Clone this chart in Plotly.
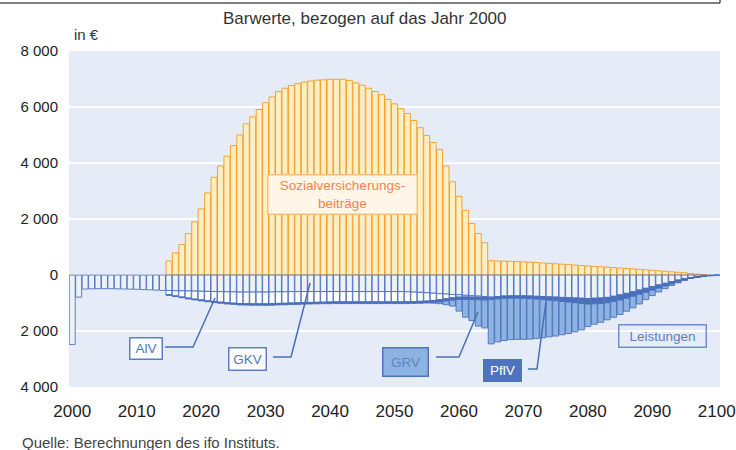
import plotly.graph_objects as go

years = list(range(2000, 2101))

beitraege = ([0] * 15 +
    [500, 790, 1090, 1480, 1900, 2360, 2930, 3490, 3890, 4240,
     4620, 5000, 5400, 5650, 5910, 6150, 6360, 6550, 6670, 6770,
     6830, 6890, 6930, 6960, 6970, 6990, 6990, 6990, 6950, 6860,
     6780, 6670, 6550, 6440, 6270, 6110, 5940, 5770, 5520, 5260,
     4980, 4730, 4480, 3890, 3330, 2810, 2310, 1840, 1480, 1150,
     510, 500, 495, 490, 480, 470, 460, 445, 430, 415,
     400, 385, 370, 355, 340, 325, 310, 295, 280, 265,
     250, 235, 218, 200, 185, 168, 150, 133, 115, 97,
     80, 55, 30, 12, 0, 0])

gkv = ([2480, 790,
        500, 495, 490, 490, 490, 495, 500, 505, 510, 520, 530, 540, 550,
        555, 560, 565, 570, 575, 580, 585, 590, 595, 600, 605,
        610, 610, 610, 610, 610,
        605, 600, 600, 595, 595,
        590, 590, 590, 590, 590] + [590] * 10 +
       [595, 600, 610, 620, 635,
        650, 665, 680, 695, 710, 725, 740, 755, 770,
        790, 770, 750, 745, 745, 745, 750, 760, 770, 780, 790, 800, 810, 820, 830,
        840, 830, 820, 800, 760, 710, 655, 595, 535, 475, 415, 355, 298, 238, 180,
        130, 92, 60, 35, 15, 4])

alv = ([0] * 15 +
       [150, 185, 220, 255, 285, 310, 335, 355, 375, 390, 400,
        410, 415, 420, 420, 420,
        420, 415, 410, 405, 400,
        395, 390, 385, 380, 375] + [370] * 10 +
       [365, 355, 340, 320, 295,
        260, 220, 170, 120, 80, 60, 50, 40, 30] + [0] * 36)

pflv = ([0] * 15 +
        [20, 25, 25, 30, 30, 35, 35, 40, 40, 45, 45,
         50, 50, 50, 50, 55,
         55, 55, 55, 55, 55,
         55, 55, 55, 55, 60] + [60] * 10 +
        [60, 65, 65, 70, 70,
         75, 80, 80, 85, 85, 90, 90, 90, 90,
         90, 85, 85, 85, 85, 90, 95, 100, 110, 120, 130, 145, 160, 175, 190,
         200, 200, 200, 195, 190, 185, 175, 165, 155, 145, 130, 115, 100, 85, 70,
         50, 30, 18, 12, 8, 1])

grv = ([0] * 56 +
       [20, 60, 130, 210, 415, 630, 745, 940, 1000,
        1580, 1535, 1505, 1480, 1470, 1465, 1445, 1410, 1365, 1310, 1260, 1190, 1120, 1035, 940,
        800, 730, 670, 605, 560, 515, 465, 415, 345, 260, 190, 135, 87, 52, 30,
        10, 3, 2, 3, 2, 0])

y_tickvals = [-4000, -2000, 0, 2000, 4000, 6000, 8000]
y_ticktext = ["4 000", "2 000", "0", "2 000", "4 000", "6 000", "8 000"]
x_tickvals = list(range(2000, 2101, 10))

FONT = "Liberation Sans, Arial, sans-serif"
BLUE_LINE = "rgba(70,108,186,0.85)"


def neg(vals):
    # benefits are drawn below zero; empty years are left out of the stack
    return [-v if v > 0 else None for v in vals]


fig = go.Figure()
fig.add_trace(go.Bar(x=years, y=[v if v > 0 else None for v in beitraege],
                     name="Sozialversicherungsbeiträge",
                     marker=dict(color="#fdefc3", line=dict(color="#f5a132", width=1))))
fig.add_trace(go.Bar(x=years, y=neg(gkv), name="GKV",
                     marker=dict(color="#edf1fa", line=dict(color=BLUE_LINE, width=1))))
fig.add_trace(go.Bar(x=years, y=neg(alv), name="AlV",
                     marker=dict(color="#ffffff", line=dict(color=BLUE_LINE, width=1))))
fig.add_trace(go.Bar(x=years, y=neg(pflv), name="PflV",
                     marker=dict(color="#4a70bc", line=dict(color=BLUE_LINE, width=1))))
fig.add_trace(go.Bar(x=years, y=neg(grv), name="GRV",
                     marker=dict(color="#8db3e2", line=dict(color=BLUE_LINE, width=1))))

fig.update_layout(
    width=736, height=450,
    margin=dict(l=69, r=16, t=51, b=63),
    paper_bgcolor="white", plot_bgcolor="#e6ecf7",
    barmode="relative", bargap=0.08,
    showlegend=False,
    font=dict(family=FONT, color="#333333"),
    xaxis=dict(range=[1999.5, 2100.5], tickvals=x_tickvals, showgrid=False,
               zeroline=False, ticks="", ticklabelstandoff=12, ticklabeloverflow="allow",
               automargin=False, tickfont=dict(size=17, color="#222222")),
    yaxis=dict(range=[-4000, 8000], tickvals=y_tickvals, ticktext=y_ticktext,
               showgrid=True, gridcolor="white", gridwidth=2, zeroline=False,
               ticks="", ticklabelstandoff=10, automargin=False,
               tickfont=dict(size=15, color="#222222")),
)

# titles / text
fig.add_annotation(text="Barwerte, bezogen auf das Jahr 2000", xref="paper", yref="paper",
                   x=0.4547, y=1.098, showarrow=False, xanchor="center", yanchor="middle",
                   font=dict(size=17, color="#333333"))
fig.add_annotation(text="in €", xref="paper", yref="paper", x=0.004, y=1.048,
                   showarrow=False, xanchor="left", yanchor="middle",
                   font=dict(size=15, color="#333333"))
fig.add_annotation(text="Quelle: Berechnungen des ifo Instituts.", xref="paper", yref="paper",
                   x=-0.075, y=-0.164, showarrow=False, xanchor="left", yanchor="middle",
                   font=dict(size=15, color="#444444"))


def box(text, x, y, w, h, fc, bg, bc, bw=1.5, size=13.5):
    fig.add_annotation(text=text, x=x, y=y, xref="x", yref="y", showarrow=False,
                       width=w, height=h, align="center", valign="middle",
                       bgcolor=bg, bordercolor=bc, borderwidth=bw, borderpad=1,
                       font=dict(size=size, color=fc, family=FONT))


box("Sozialversicherungs-<br>beiträge", 2042.0, 2893, 146, 36, "#f0854f", "#fff6e8", "#f8c07a")
box("AlV", 2011.45, -2625, 29, 18, "#4f74be", "#ffffff", "#5a7fc4")
box("GKV", 2027.2, -3000, 34, 19, "#4f74be", "#ffffff", "#5a7fc4")
box("GRV", 2051.7, -3107, 42, 25, "#5f82c2", "#8db3e2", "#4f74be")
box("PflV", 2066.75, -3410, 34, 18, "#ffffff", "#4f74be", "#4f74be")
box("Leistungen", 2091.6, -2190, 84, 19, "#5a7fc0", "rgba(0,0,0,0)", "#6f8fcc")

# leader lines
leaders = [
    [(2014.4, -2571), (2018.74, -2571), (2022.15, -821)],
    [(2031.15, -2929), (2033.94, -2929), (2036.9, -286)],
    [(2056.43, -2929), (2060.0, -2929), (2062.95, -1321)],
    [(2070.7, -3357), (2072.1, -3357), (2073.5, -964)],
]
for pts in leaders:
    path = "M " + " L ".join(f"{px},{py}" for px, py in pts)
    fig.add_shape(type="path", path=path, xref="x", yref="y",
                  line=dict(color="#4a6fb8", width=1.5))

# top frame line
fig.add_shape(type="line", xref="paper", yref="paper", x0=-0.106, x1=1.0, y0=1.1429, y1=1.1429,
              line=dict(color="#555555", width=1.5))
fig.add_shape(type="line", xref="paper", yref="paper", x0=1.0, x1=1.0, y0=1.1429, y1=1.16,
              line=dict(color="#555555", width=1.5))

fig.write_html("out.html", config={"displayModeBar": False},
               post_script="document.body.style.margin='0';")
